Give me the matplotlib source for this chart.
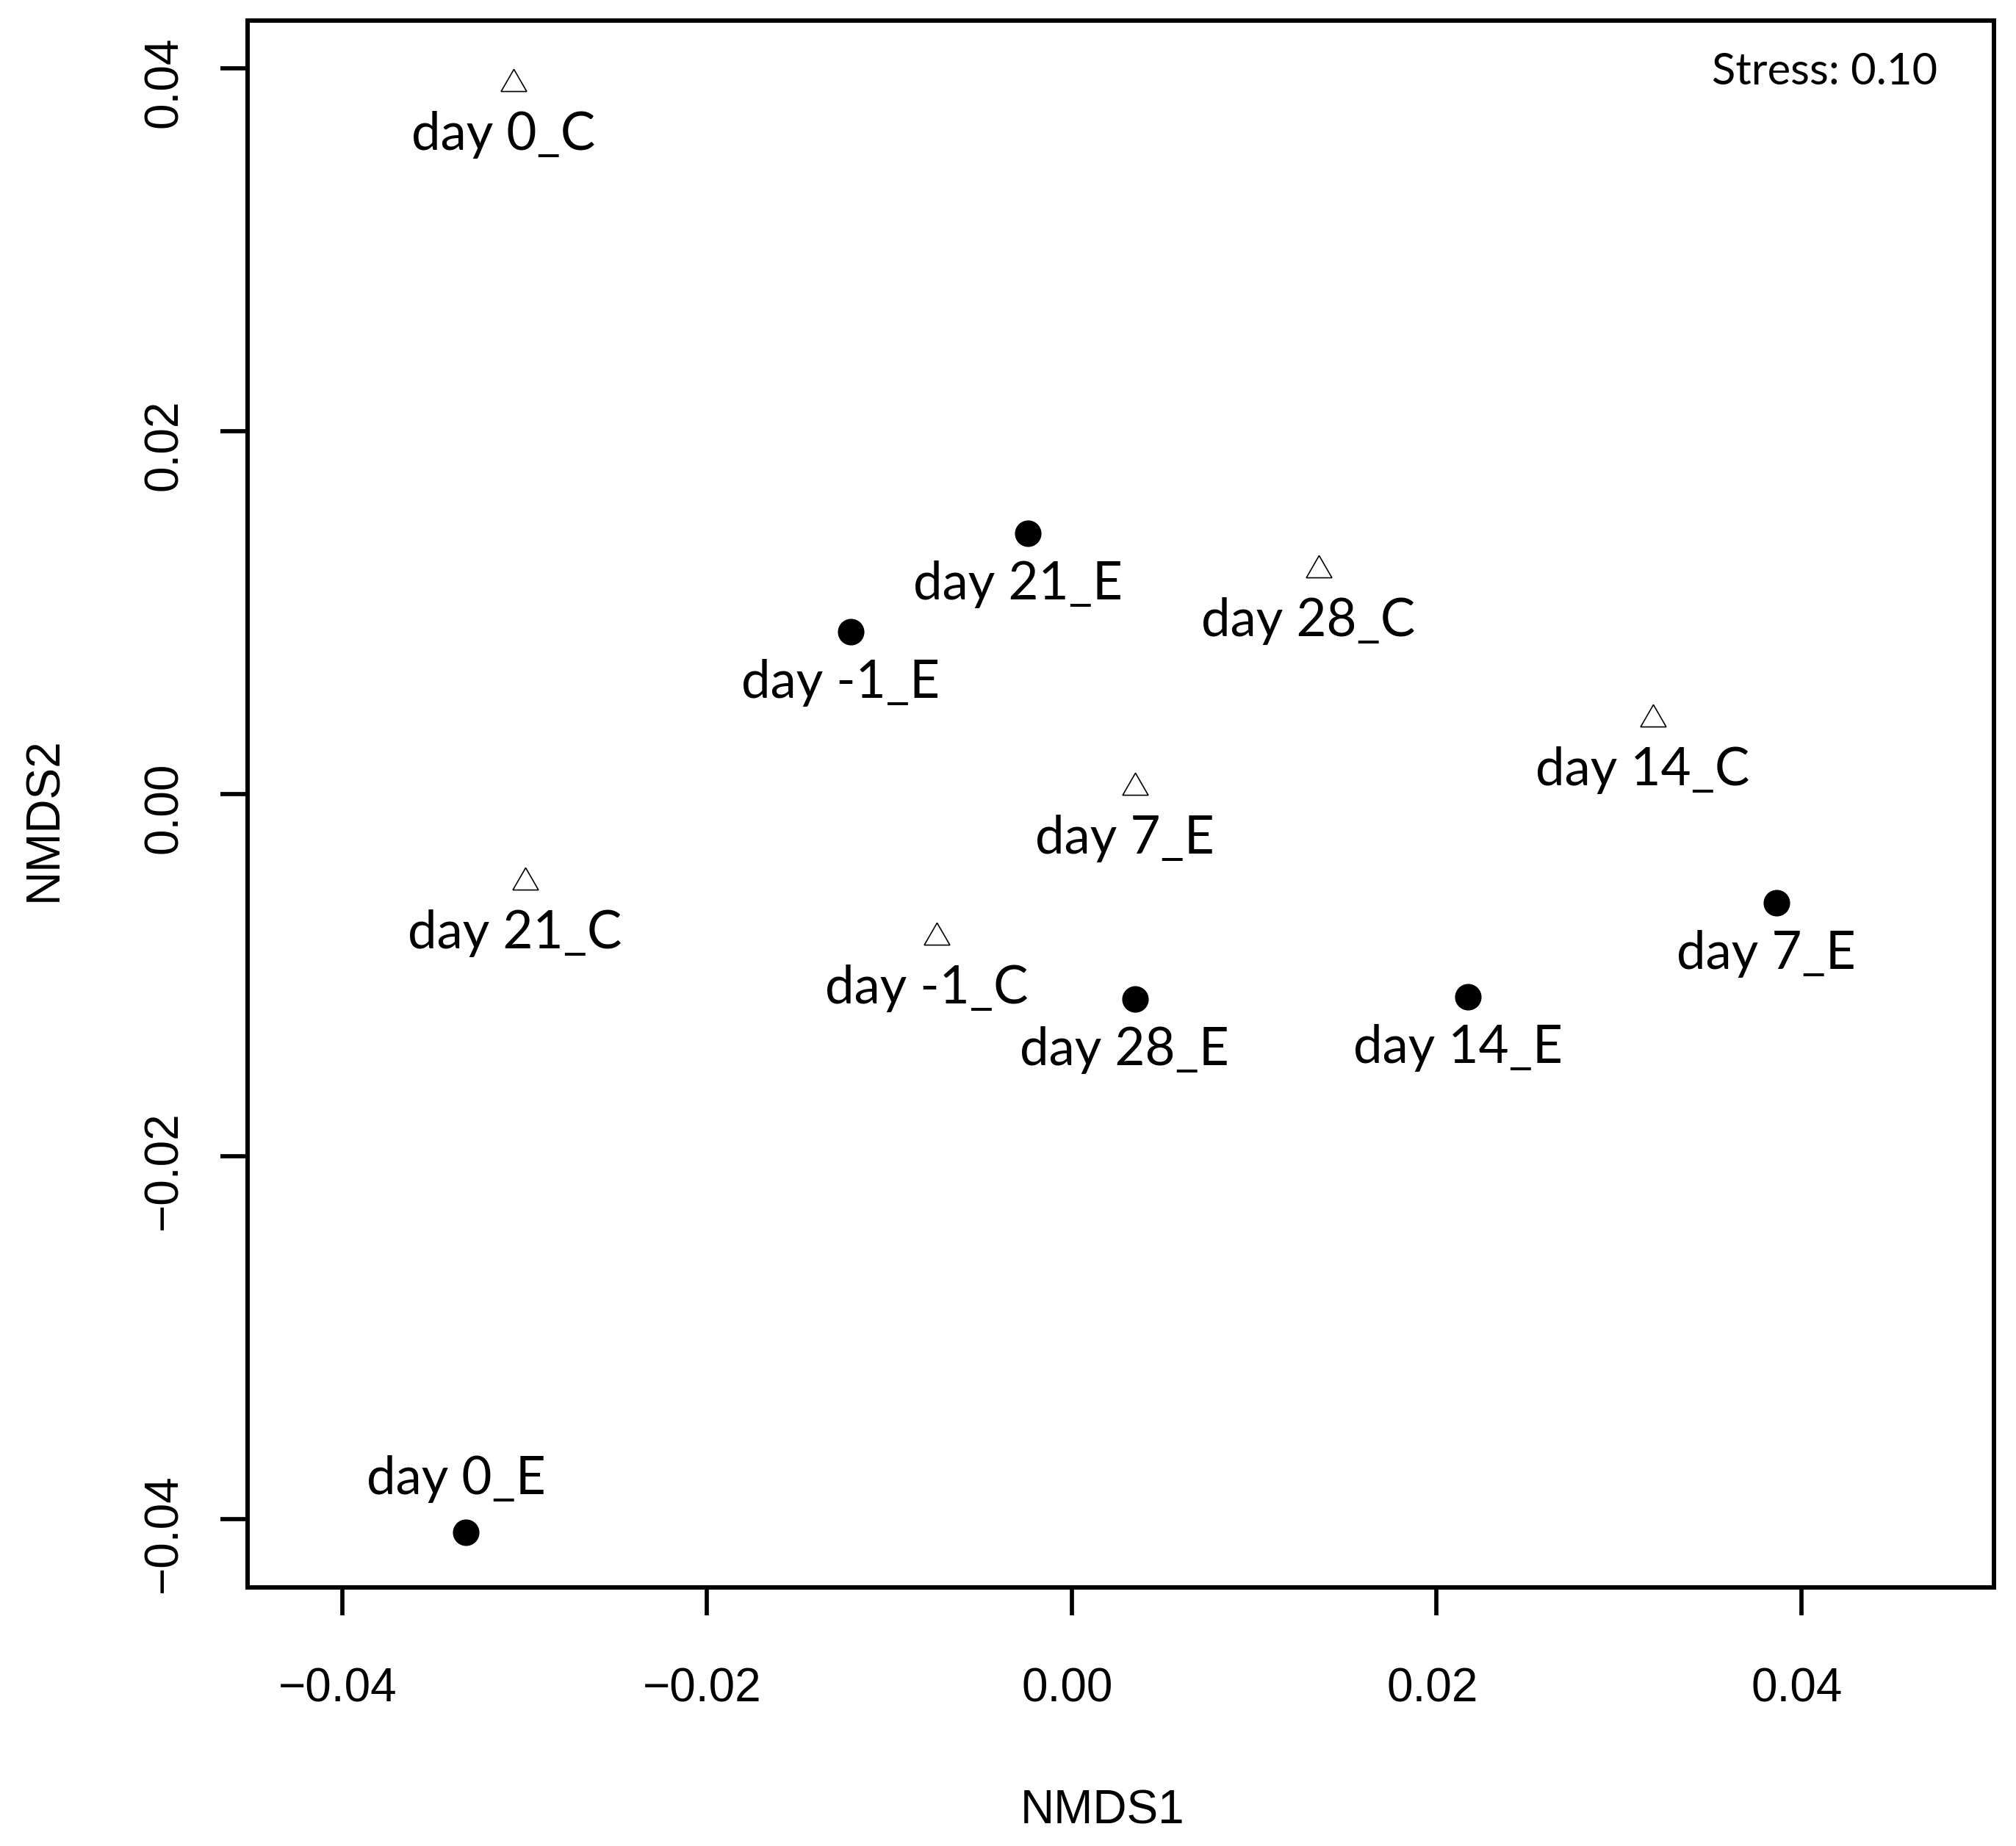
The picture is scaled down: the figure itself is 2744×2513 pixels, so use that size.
import matplotlib
matplotlib.use("Agg")
import matplotlib.pyplot as plt
import matplotlib.transforms as mtransforms

# NMDS scores
sample_labels = ["day 0_C", "day 21_E", "day -1_E", "day 28_C", "day 14_C", "day 7_E",
                 "day 21_C", "day -1_C", "day 28_E", "day 14_E", "day 7_E", "day 0_E"]
nmds1 = [-0.03059, -0.00240, -0.01212, 0.01353, 0.03186, 0.00345,
         -0.02996, -0.00740, 0.00345, 0.02171, 0.03863, -0.03320]
nmds2 = [0.03915, 0.01437, 0.00892, 0.01235, 0.00411, 0.00035,
         -0.00488, -0.00793, -0.01133, -0.01119, -0.00602, -0.04070]
group = ["C", "E", "E", "C", "C", "C", "C", "C", "E", "E", "E", "E"]

x_ticks = [-0.04, -0.02, 0.00, 0.02, 0.04]
y_ticks = [-0.04, -0.02, 0.00, 0.02, 0.04]
stress = 0.10

def fmt(v):
    return ("%.2f" % v).replace("-", "\u2212")

### matplotlib settings
matplotlib.rc("font", family=["Liberation Sans", "DejaVu Sans"])
matplotlib.rc("axes", linewidth=4.3)

fig = plt.figure(figsize=(27.44, 25.13), dpi=100)
ax = fig.add_axes([0.1228, 0.1401, 0.8662, 0.8487])

### points
for x, y, g in zip(nmds1, nmds2, group):
    if g == "C":
        ax.plot(x, y, linestyle="none", marker=(3, 0, 0), markersize=29,
                markerfacecolor="none", markeredgecolor="black", markeredgewidth=1.2)
    else:
        ax.plot(x, y, linestyle="none", marker="o", markersize=25,
                markerfacecolor="black", markeredgecolor="black")

### labels (below the point, except the bottom-left one)
above = ["day 0_E"]
for lab, x, y in zip(sample_labels, nmds1, nmds2):
    dy = 52 if lab in above else -50
    ax.annotate(lab, (x, y), xytext=(-10, dy), textcoords="offset points",
                ha="center", va="center", fontsize=51, family=["Lato", "DejaVu Sans"])

ax.text(0.9676, 0.9672, "Stress: %.2f" % stress, transform=ax.transAxes,
        ha="right", va="center", fontsize=43, family=["Lato", "DejaVu Sans"])

### axes
ax.set_xlim(-0.04518, 0.05054)
ax.set_ylim(-0.04375, 0.04262)
ax.set_xticks(x_ticks)
ax.set_yticks(y_ticks)
ax.set_xticklabels([fmt(v) for v in x_ticks])
ax.set_yticklabels([fmt(v) for v in y_ticks], rotation=90, va="center")
ax.tick_params(axis="both", length=27, width=4.1, labelsize=46, direction="out")
ax.tick_params(axis="x", pad=51)
ax.tick_params(axis="y", pad=33)

# R draws the rotated y labels a little below the tick
shift_y = mtransforms.ScaledTranslation(0, -0.19, fig.dpi_scale_trans)
for lab in ax.get_yticklabels():
    lab.set_transform(lab.get_transform() + shift_y)
shift_x = mtransforms.ScaledTranslation(-0.06, 0, fig.dpi_scale_trans)
for lab in ax.get_xticklabels():
    lab.set_transform(lab.get_transform() + shift_x)

ax.set_xlabel("NMDS1", fontsize=46)
ax.set_ylabel("NMDS2", fontsize=46)
ax.xaxis.set_label_coords(0.4897, -0.1430)
ax.xaxis.label.set_va("center")
ax.yaxis.set_label_coords(-0.1165, 0.4904)
ax.yaxis.label.set_va("center")

fig.savefig("out.png", dpi=100)
